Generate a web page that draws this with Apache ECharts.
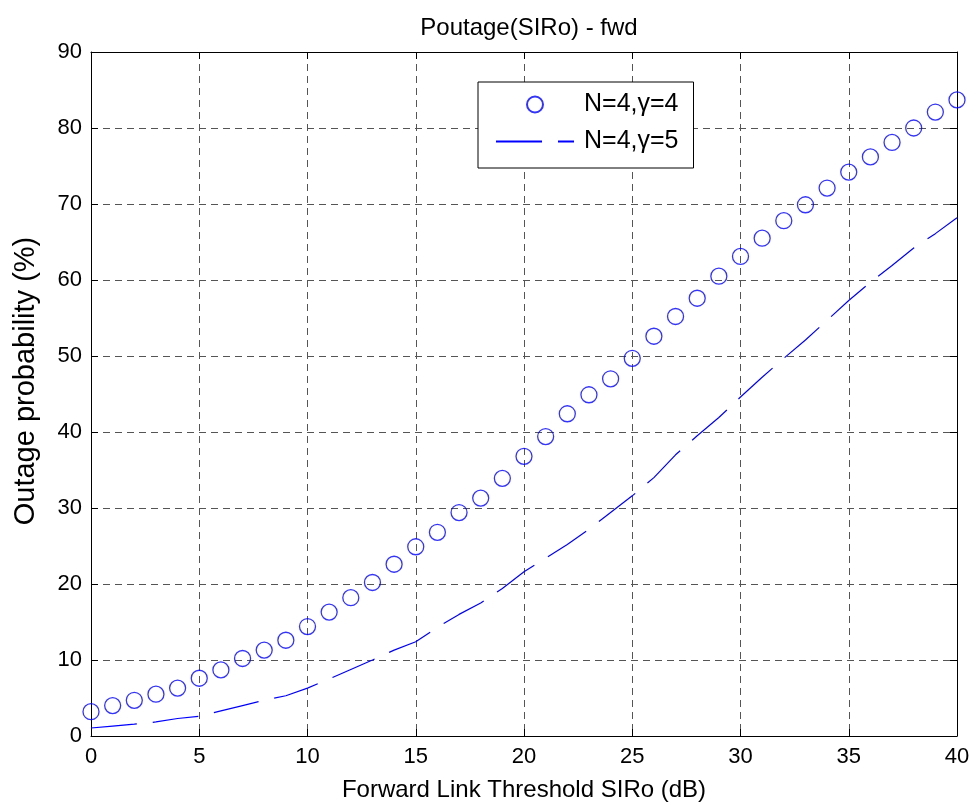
<!DOCTYPE html>
<html><head><meta charset="utf-8">
<script src="https://cdn.jsdelivr.net/npm/echarts@6/dist/echarts.min.js"></script>
<style>html,body{margin:0;padding:0;background:#fff}#c{width:978px;height:812px}</style>
</head><body><div id="c"></div>
<script>
const sirThreshold = [0,1,2,3,4,5,6,7,8,9,10,11,12,13,14,15,16,17,18,19,20,21,22,23,24,25,26,27,28,29,30,31,32,33,34,35,36,37,38,39,40];
const outageGamma4 = [3.2,4.0,4.7,5.5,6.3,7.6,8.7,10.2,11.3,12.6,14.4,16.3,18.2,20.2,22.6,24.9,26.8,29.4,31.3,33.9,36.8,39.4,42.4,44.9,47.0,49.7,52.6,55.2,57.6,60.5,63.1,65.5,67.8,69.9,72.1,74.2,76.2,78.1,80.0,82.1,83.7];
const outageGamma5 = [1.05,1.3,1.55,1.85,2.3,2.6,3.3,4.0,4.7,5.3,6.3,7.5,8.75,10.0,11.3,12.4,14.3,16.0,17.5,19.4,21.6,23.4,25.2,27.2,29.4,31.6,34.0,37.0,39.5,41.9,44.6,47.2,49.7,52.1,54.7,57.3,59.7,61.9,64.2,66.1,68.2];
const xTicks = {min:0, max:40, interval:5};
const yTicks = {min:0, max:90, interval:10};
const seriesNames = ['N=4,\u03b3=4','N=4,\u03b3=5'];
const titleText = 'Poutage(SIRo) - fwd';
const xName = 'Forward Link Threshold SIRo (dB)';
const yName = 'Outage probability (%)';

const FONT = '"Liberation Sans", Arial, sans-serif';
const chart = echarts.init(document.getElementById('c'), null, {renderer:'canvas'});
const gridLine = {show:true, lineStyle:{color:'#555', type:[7,5], width:1}};
const baseAxisLabel = {color:'#000', fontFamily:FONT, fontSize:22};
chart.setOption({
  animation:false,
  backgroundColor:'#fff',
  title:{text:titleText, left:524, textAlign:'center', top:11,
    textStyle:{fontFamily:FONT, fontSize:24, fontWeight:'normal', color:'#000'}},
  grid:{left:91, right:21, top:52, bottom:76, containLabel:false},
  legend:{
    orient:'vertical', left:478, top:82,
    padding:[10,15,14,17], itemGap:12,
    backgroundColor:'#fff', borderColor:'#000', borderWidth:1,
    itemWidth:78, itemHeight:16,
    textStyle:{fontFamily:FONT, fontSize:25, lineHeight:25, color:'#000', padding:[0,0,0,5]},
    data:[{name:seriesNames[0]},{name:seriesNames[1], itemStyle:{opacity:0}}]
  },
  xAxis:[
    {type:'value', min:xTicks.min, max:xTicks.max, interval:xTicks.interval,
     name:xName, nameLocation:'middle', nameGap:42,
     nameTextStyle:{fontFamily:FONT, fontSize:24, color:'#000'},
     axisLine:{show:true, onZero:false, lineStyle:{color:'#000', width:1}},
     axisTick:{show:true, inside:true, length:7, lineStyle:{color:'#000'}},
     axisLabel:Object.assign({margin:10}, baseAxisLabel),
     splitLine:gridLine},
    {type:'value', position:'top', min:xTicks.min, max:xTicks.max, interval:xTicks.interval,
     axisLine:{show:true, onZero:false, lineStyle:{color:'#000', width:1}},
     axisTick:{show:true, inside:true, length:7, lineStyle:{color:'#000'}},
     axisLabel:{show:false}, splitLine:{show:false}}
  ],
  yAxis:[
    {type:'value', min:yTicks.min, max:yTicks.max, interval:yTicks.interval,
     name:yName, nameLocation:'middle', nameGap:51,
     nameTextStyle:{fontFamily:FONT, fontSize:29, color:'#000', padding:[0,0,0,26]},
     axisLine:{show:true, onZero:false, lineStyle:{color:'#000', width:1}},
     axisTick:{show:true, inside:true, length:7, lineStyle:{color:'#000'}},
     axisLabel:Object.assign({margin:9}, baseAxisLabel),
     splitLine:gridLine},
    {type:'value', position:'right', min:yTicks.min, max:yTicks.max, interval:yTicks.interval,
     axisLine:{show:true, onZero:false, lineStyle:{color:'#000', width:1}},
     axisTick:{show:true, inside:true, length:7, lineStyle:{color:'#000'}},
     axisLabel:{show:false}, splitLine:{show:false}}
  ],
  series:[
    {name:seriesNames[0], type:'scatter', xAxisIndex:0, yAxisIndex:0,
     symbol:'circle', symbolSize:16,
     itemStyle:{color:'rgba(0,0,0,0)', borderColor:'#0000ff', borderWidth:1.3},
     data:sirThreshold.map((x,i)=>[x, outageGamma4[i]])},
    {name:seriesNames[1], type:'line', xAxisIndex:0, yAxisIndex:0,
     showSymbol:false, symbol:'none', smooth:false,
     lineStyle:{color:'#0000ff', width:1.2, type:[46,16]},
     itemStyle:{color:'#0000ff'},
     data:sirThreshold.map((x,i)=>[x, outageGamma5[i]])}
  ]
});
</script></body></html>
